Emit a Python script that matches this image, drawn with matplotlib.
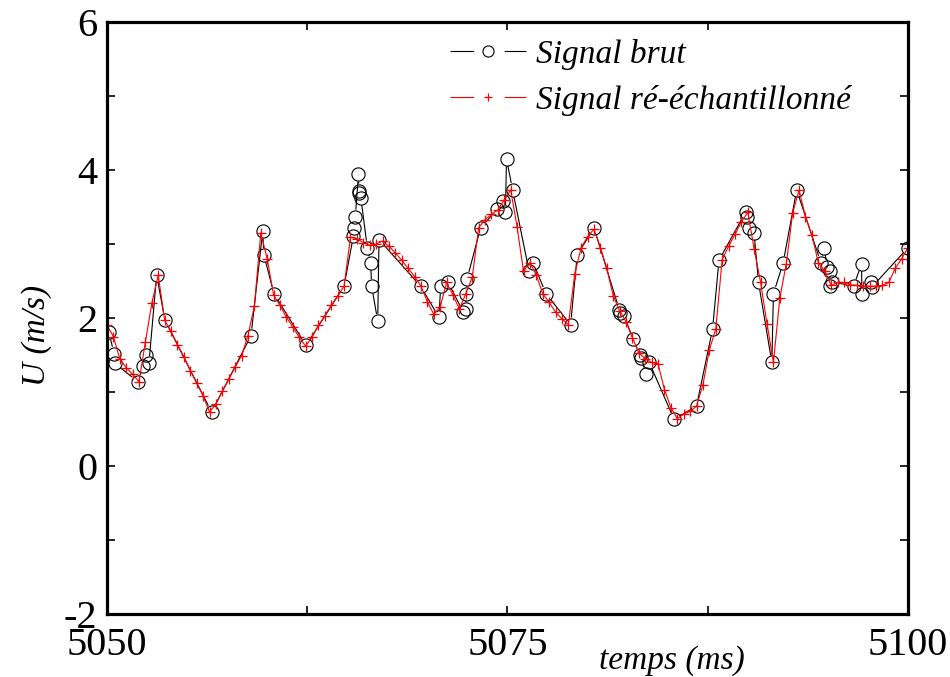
import numpy as np
import matplotlib
matplotlib.use('Agg')
import matplotlib.pyplot as plt
from matplotlib.collections import LineCollection
from matplotlib.lines import Line2D
from matplotlib.ticker import MultipleLocator

plt.rcParams['font.family'] = ['Liberation Serif', 'DejaVu Serif']
plt.rcParams['lines.scale_dashes'] = False

# Raw signal (irregular sampling)
t_raw = [5050.12, 5050.44, 5050.48, 5051.93, 5052.25, 5052.41, 5052.62, 5053.10, 5053.62, 5056.53,
         5058.99, 5059.72, 5059.80, 5060.42, 5062.42, 5064.80, 5065.38, 5065.45, 5065.50, 5065.70,
         5065.72, 5065.76, 5065.85, 5066.25, 5066.46, 5066.52, 5066.90, 5066.98, 5069.58, 5070.72,
         5070.83, 5071.30, 5072.24, 5072.38, 5072.44, 5072.48, 5073.32, 5074.36, 5074.69, 5074.87,
         5074.94, 5075.32, 5076.35, 5076.60, 5077.40, 5078.94, 5079.35, 5080.40, 5081.98, 5082.02,
         5082.28, 5082.85, 5083.27, 5083.33, 5083.65, 5083.85, 5085.40, 5086.80, 5087.80, 5088.20,
         5089.86, 5089.98, 5090.08, 5090.39, 5090.67, 5091.50, 5091.60, 5092.20, 5093.05, 5094.56,
         5094.76, 5094.96, 5095.10, 5095.15, 5095.25, 5096.60, 5097.10, 5097.12, 5097.70, 5097.75,
         5100.00]
u_raw = [1.81, 1.52, 1.39, 1.14, 1.35, 1.50, 1.39, 2.58, 1.97, 0.73,
         1.76, 3.17, 2.85, 2.33, 1.63, 2.43, 3.11, 3.21, 3.37, 3.94,
         3.72, 3.69, 3.62, 2.95, 2.74, 2.43, 1.96, 3.06, 2.43, 2.01,
         2.43, 2.48, 2.08, 2.12, 2.33, 2.53, 3.22, 3.47, 3.58, 3.43,
         4.15, 3.73, 2.63, 2.75, 2.33, 1.91, 2.85, 3.22, 2.11, 2.07,
         2.03, 1.71, 1.50, 1.46, 1.24, 1.40, 0.63, 0.81, 1.85, 2.78,
         3.43, 3.37, 3.22, 3.15, 2.48, 1.40, 2.33, 2.74, 3.73, 2.75,
         2.95, 2.69, 2.63, 2.43, 2.49, 2.43, 2.73, 2.33, 2.48, 2.42,
         2.95]

# Resampled signal, uniform step starting at t_start
t_start = 5050.0
dt = 0.4
u_res = [1.90, 1.75, 1.45, 1.33, 1.24, 1.14, 1.68, 2.20, 2.58, 1.97,
         1.82, 1.64, 1.48, 1.29, 1.12, 0.95, 0.73, 0.84, 1.01, 1.17,
         1.34, 1.49, 1.76, 2.16, 3.15, 2.80,
         2.31, 2.17, 2.01, 1.88, 1.74, 1.62, 1.74, 1.90, 2.03, 2.17,
         2.30, 2.43, 3.09, 3.07, 3.02, 2.98, 3.00, 3.04, 2.97, 2.88,
         2.78, 2.67, 2.56, 2.43,
         2.22, 2.05, 2.15, 2.48, 2.31, 2.12, 2.33, 2.55, 3.22, 3.33,
         3.40, 3.46, 3.60, 3.73, 3.23, 2.63, 2.75, 2.58, 2.33, 2.21,
         2.08, 1.99, 1.91, 2.60, 2.95, 3.10, 3.20, 2.95, 2.67, 2.30,
         2.10, 1.95, 1.73, 1.53, 1.45, 1.40, 1.38, 1.03, 0.79, 0.64,
         0.70, 0.74, 0.81, 1.10, 1.57, 1.85,
         2.79, 2.97, 3.13, 3.30, 3.43, 2.93, 2.48, 1.92, 1.40, 2.27,
         2.73, 3.42, 3.73, 3.37, 3.12, 2.75, 2.64, 2.44, 2.48, 2.48,
         2.45, 2.44, 2.43, 2.43, 2.43, 2.44, 2.48, 2.67, 2.80, 2.95]
t_res = t_start + dt * np.arange(len(u_res))

x_ticks = [5050, 5075, 5100]
y_ticks = [-2, 0, 2, 4, 6]
labels = ['Signal brut', 'Signal ré-échantillonné']

fig = plt.figure(figsize=(9.5, 6.77), dpi=100)
ax = fig.add_axes([0.1126, 0.093, 0.8432, 0.8745])
ax.set_xlim(5050, 5100)
ax.set_ylim(-2, 6)

# black line with gaps around the open circles (Origin style)
ms_circle = 9.5
r = ms_circle / 2 * fig.dpi / 72 + 0.5
pts = ax.transData.transform(np.column_stack([t_raw, u_raw]))
d = np.diff(pts, axis=0)
L = np.hypot(d[:, 0], d[:, 1])
keep = L > 2 * r
uv = d[keep] / L[keep, None]
a = pts[:-1][keep] + r * uv
b = pts[1:][keep] - r * uv
segs = ax.transData.inverted().transform(np.stack([a, b], axis=1).reshape(-1, 2)).reshape(-1, 2, 2)
ax.add_collection(LineCollection(segs, colors='black', linewidths=0.8))
ax.plot(t_raw, u_raw, linestyle='none', marker='o', ms=ms_circle,
        markerfacecolor='none', markeredgecolor='black', markeredgewidth=0.8)

ax.plot(t_res, u_res, color='red', lw=0.8, marker='+', ms=6.5, mew=0.9)

# axes style
for s in ax.spines.values():
    s.set_linewidth(2.3)
ax.set_xticks(x_ticks)
ax.set_xticklabels([str(v) for v in x_ticks])
ax.xaxis.set_minor_locator(MultipleLocator(12.5))
ax.set_yticks(y_ticks)
ax.set_yticklabels([str(v) for v in y_ticks])
ax.yaxis.set_minor_locator(MultipleLocator(1))
ax.tick_params(which='both', direction='in', top=True, right=True,
               length=6, width=1.2, labelsize=29)
ax.tick_params(axis='x', pad=9)
ax.tick_params(axis='y', pad=7)

ax.set_ylabel('U (m/s)', fontsize=24, style='italic')
ax.yaxis.set_label_coords(-0.069, 0.47)
ax.text(0.705, -0.078, 'temps (ms)', transform=ax.transAxes, fontsize=24,
        style='italic', ha='center', va='center')

# legend with gapped line handles
handles = [
    Line2D([0], [0], color='black', lw=0.8, dashes=(17, 22), marker='o', ms=8,
           markerfacecolor='none', markeredgecolor='black', markeredgewidth=0.8),
    Line2D([0], [0], color='red', lw=0.8, dashes=(17, 22), marker='+', ms=6, mew=0.9),
]
leg = ax.legend(handles, labels, loc='upper left', bbox_to_anchor=(0.428, 0.972),
                frameon=False, numpoints=1, handlelength=2.3, handletextpad=0.3,
                labelspacing=0.45, borderpad=0, borderaxespad=0,
                prop={'size': 24, 'style': 'italic'})

fig.savefig('out.png', dpi=100)
